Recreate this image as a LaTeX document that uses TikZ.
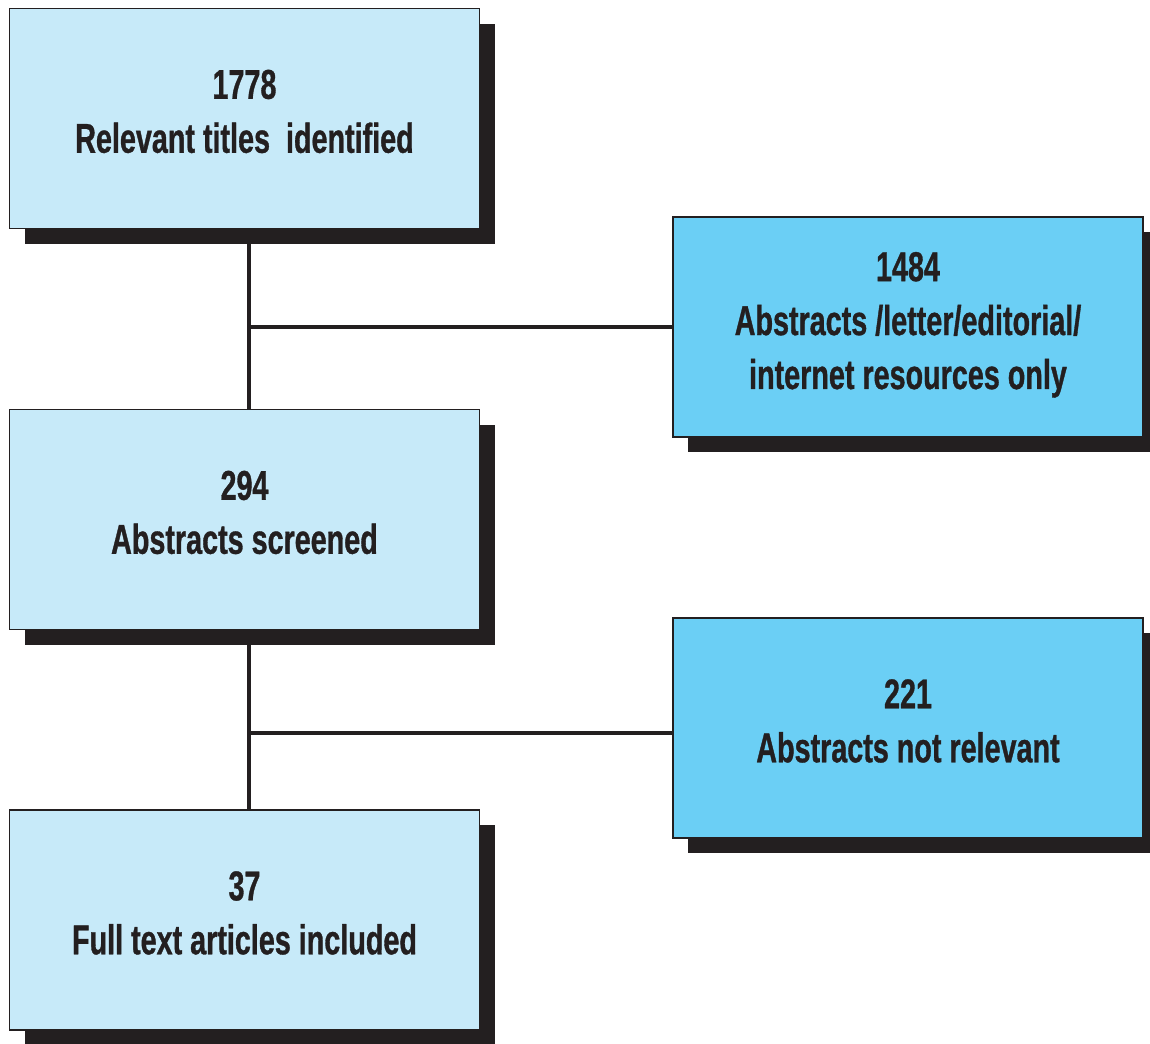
\documentclass[tikz,border=0pt]{standalone}
\usepackage{fontspec}
\newfontfamily\flowfont{Liberation Sans}[FakeStretch=0.69,FakeBold=0.8]
\usepackage{tikz}
\usetikzlibrary{shadows}
\usetikzlibrary{backgrounds}
\definecolor{lb}{RGB}{199,234,249}
\definecolor{db}{RGB}{107,207,245}
\definecolor{sh}{RGB}{35,31,32}
\tikzset{
  stage/.style={draw=sh, line width=0.9pt, fill=lb, minimum width=9.4cm, minimum height=4.4cm,
    align=center, font=\flowfont\bfseries\fontsize{23.7}{30.7}\selectfont, text=sh, text depth=0.29cm,
    drop shadow={shadow xshift=0.3cm, shadow yshift=-0.3cm, fill=sh, opacity=1}},
  excl/.style={stage, fill=db},
  link/.style={draw=sh, line width=2.3pt}
}

\begin{document}
\begin{tikzpicture}
\useasboundingbox (0,0) rectangle (23,-20.86);
\node[stage] (titles) at (4.89,-2.37) {1778\\Relevant titles\ \ identified};
\node[stage] (screen) at (4.89,-10.39) {294\\Abstracts screened};
\node[stage] (full) at (4.89,-18.40) {37\\Full text articles included};
\node[excl, text depth=0.26cm] (abs) at (18.16,-6.54) {1484\\Abstracts /letter/editorial/\\internet resources only};
\node[excl] (notrel) at (18.16,-14.56) {221\\Abstracts not relevant};
\begin{scope}[on background layer]
\draw[link] ([xshift=0.09cm]titles.south) -- ([xshift=0.09cm]screen.north);
\draw[link] ([xshift=0.09cm]screen.south) -- ([xshift=0.09cm]full.north);
\draw[link] ([xshift=0.09cm]titles.south |- abs.west) -- (abs.west);
\draw[link] ([xshift=0.09cm,yshift=-0.1cm]screen.south |- notrel.west) -- ([yshift=-0.1cm]notrel.west);
\end{scope}
\end{tikzpicture}
\end{document}
